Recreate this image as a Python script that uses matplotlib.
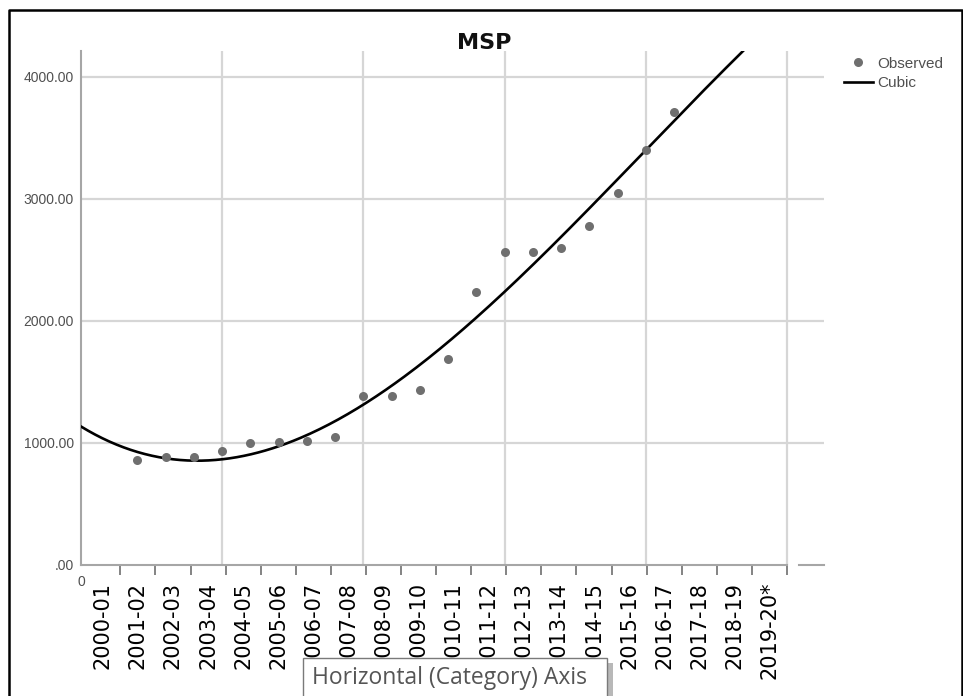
import numpy as np
import matplotlib.pyplot as plt
from matplotlib.lines import Line2D
from matplotlib.patches import Rectangle

# observed MSP values, sequence number 2..21 on the numeric axis
seq = [2, 3, 4, 5, 6, 7, 8, 9, 10, 11, 12, 13, 14, 15, 16, 17, 18, 19, 20, 21]
msp = [858, 883, 883, 932, 997, 1011, 1016, 1047, 1388, 1388,
       1434, 1689, 2240, 2563, 2563, 2601, 2779, 3052, 3402, 3716]

years = ['2000-01', '2001-02', '2002-03', '2003-04', '2004-05', '2005-06',
         '2006-07', '2007-08', '2008-09', '2009-10', '2010-11', '2011-12',
         '2012-13', '2013-14', '2014-15', '2015-16', '2016-17', '2017-18',
         '2018-19', '2019-20*']

yticks = [0, 1000, 2000, 3000, 4000]
ytick_labels = ['.00', '1000.00', '2000.00', '3000.00', '4000.00']

W, H = 963, 696
fig = plt.figure(figsize=(W / 100, H / 100), dpi=100)

def fx(px):
    return px / W

def fy(py):
    return 1 - py / H

ax = fig.add_axes([fx(81), fy(565), fx(824) - fx(81), fy(51) - fy(565)])
ax.set_xlim(0, 26.31)
ax.set_ylim(0, 4213)

grid_c = '#d6d6d6'
axis_c = '#a6a6a6'

# grid
for v in [1000, 2000, 3000, 4000]:
    ax.axhline(v, color=grid_c, lw=1.6, zorder=1)
for t in [5, 10, 15, 20, 25]:
    ax.axvline(t, color=grid_c, lw=1.6, zorder=1)

# cubic fit, drawn over the whole numeric axis
coef = np.polyfit(seq, msp, 3)
tt = np.linspace(0, 25, 300)
ax.plot(tt, np.polyval(coef, tt), color='black', lw=1.9, zorder=3, label='Cubic')
ax.plot(seq, msp, 'o', color='#6f6f6f', ms=6.5, mec='none', zorder=4, label='Observed')

# spines
for s in ['top', 'right']:
    ax.spines[s].set_visible(False)
ax.spines['left'].set_color(axis_c)
ax.spines['left'].set_linewidth(1.5)
ax.spines['bottom'].set_color(axis_c)
ax.spines['bottom'].set_linewidth(1.5)
ax.spines['bottom'].set_bounds(0, 25)
ax.plot([25.42, 26.31], [0, 0], color=axis_c, lw=1.5, clip_on=False)

# y axis
ax.set_yticks(yticks)
ax.set_yticklabels(ytick_labels, fontsize=10, color='#505050', family='Liberation Sans')
ax.tick_params(axis='y', length=0, pad=5)

# category axis
edges = np.linspace(0.15, 25, len(years) + 1)
centers = (edges[:-1] + edges[1:]) / 2
ax.set_xticks(edges[1:])
ax.set_xticklabels([])
ax.set_xticks(centers, minor=True)
ax.set_xticklabels(years, minor=True, rotation=90, fontsize=15, family='DejaVu Sans')
ax.tick_params(axis='x', which='major', length=7, width=1.3, color='#7a7a7a', direction='out')
ax.tick_params(axis='x', which='minor', length=0, pad=12)

ax.annotate('0', xy=(0, 0), xytext=(0, -12), textcoords='offset points',
            ha='center', va='center', fontsize=10, color='#505050',
            family='Liberation Sans', annotation_clip=False)

fig.text(fx(484), fy(43), 'MSP', ha='center', va='center', fontsize=16,
         fontweight='bold', color='#111111')

# legend
h, l = ax.get_legend_handles_labels()
fig.legend(h[::-1], l[::-1], loc='upper left', bbox_to_anchor=(fx(836), fy(49)),
           frameon=False, handlelength=1.9, handletextpad=0.3,
           labelspacing=0.35, borderpad=0, labelcolor='#505050',
           prop={'family': 'Liberation Sans', 'size': 11})

# outer frame of the screenshot
fig.add_artist(Line2D([fx(9), fx(9), fx(962), fx(962)], [0, fy(10), fy(10), 0],
                      color='black', lw=1.8))

# tooltip box
fig.add_artist(Rectangle((fx(608), -0.1), fx(5), fy(663) + 0.1,
                         facecolor='#b8b8b8', edgecolor='none', zorder=9))
fig.add_artist(Rectangle((fx(303), -0.1), fx(607) - fx(303), fy(658) + 0.1,
                         facecolor='white', edgecolor='#7a7a7a', lw=1, zorder=10))
fig.text(fx(312), fy(678), 'Horizontal (Category) Axis', fontsize=16.5,
         family='Open Sans', color='#555555', va='center', zorder=11)

fig.savefig('out.png', dpi=100)
